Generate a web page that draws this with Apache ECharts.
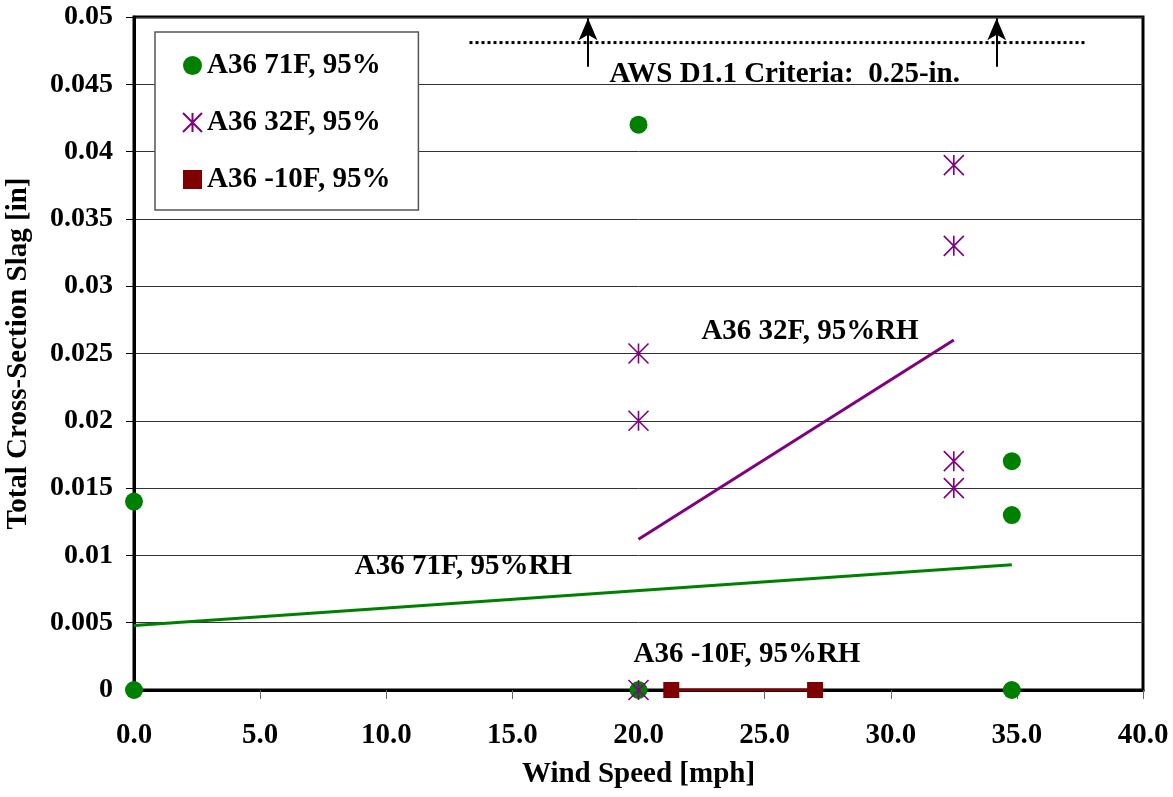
<!DOCTYPE html>
<html>
<head>
<meta charset="utf-8">
<script src="https://cdn.jsdelivr.net/npm/echarts@6/dist/echarts.min.js"></script>
<style>
html,body{margin:0;padding:0;background:#fff;}
#chart{width:1173px;height:797px;}
</style>
</head>
<body>
<div id="chart"></div>
<script>
// ---- data ----
const a36_71F = [[0,0.014],[0,0],[20,0.042],[20,0],[34.8,0.017],[34.8,0.013],[34.8,0]];
const a36_32F = [[20,0.025],[20,0.020],[20,0],[32.5,0.039],[32.5,0.033],[32.5,0.017],[32.5,0.015]];
const a36_m10F = [[21.3,0],[27,0]];
const trend71F = [[0,0.0048],[34.8,0.0093]];
const trend32F = [[20,0.0112],[32.5,0.026]];
const trendM10F = [[21.3,0],[27,0]];
const criteriaLine = [[13.3,0.0481],[37.8,0.0481]];
const arrowX = [18.0, 34.2];
const arrowY = [0.0463, 0.0499];
const notes = [
  {text:'AWS D1.1 Criteria:  0.25-in.', x:25.8, y:0.0457},
  {text:'A36 32F, 95%RH', x:26.8, y:0.0266},
  {text:'A36 71F, 95%RH', x:13.06, y:0.00914},
  {text:'A36 -10F, 95%RH', x:24.3, y:0.0026}
];
const names = ['A36 71F, 95%','A36 32F, 95%','A36 -10F, 95%'];

const FONT = '"Liberation Serif","Times New Roman",serif';
const GREEN = '#008000', PURPLE = '#800080', MAROON = '#800000';
const STAR = 'path://M0,0L20,20M20,0L0,20M10,0L10,20';

const chart = echarts.init(document.getElementById('chart'));
chart.setOption({
  animation:false,
  backgroundColor:'#fff',
  textStyle:{fontFamily:FONT},
  grid:{left:134,right:30,top:17,bottom:107,containLabel:false,outerBoundsMode:'none',
        show:true,borderColor:'#000',borderWidth:3,backgroundColor:'transparent'},
  legend:{
    data:names, orient:'vertical', left:155, top:32,
    padding:[19,28,16,27], itemGap:28, itemWidth:19, itemHeight:19,
    backgroundColor:'#fff', borderColor:'#555', borderWidth:1.5,
    textStyle:{fontFamily:FONT,fontWeight:'bold',fontSize:29,color:'#000'}
  },
  xAxis:{
    type:'value', min:0, max:40, interval:5,
    name:'Wind Speed [mph]', nameLocation:'middle', nameGap:70,
    nameTextStyle:{fontFamily:FONT,fontWeight:'bold',fontSize:29,color:'#000'},
    axisLine:{show:true,lineStyle:{color:'#000',width:3}},
    axisTick:{show:true,inside:false,length:9,lineStyle:{color:'#666',width:1}},
    axisLabel:{margin:31,fontFamily:FONT,fontWeight:'bold',fontSize:29,color:'#000',formatter:v=>v.toFixed(1)},
    splitLine:{show:false}
  },
  yAxis:{
    type:'value', min:0, max:0.05, interval:0.005,
    name:'Total Cross-Section Slag [in]', nameLocation:'middle', nameGap:101,
    nameTextStyle:{fontFamily:FONT,fontWeight:'bold',fontSize:29,color:'#000'},
    axisLine:{show:true,lineStyle:{color:'#000',width:3}},
    axisTick:{show:true,length:8,lineStyle:{color:'#000',width:1}},
    axisLabel:{margin:21,fontFamily:FONT,fontWeight:'bold',fontSize:28,color:'#000'},
    splitLine:{show:true,lineStyle:{color:'#333',width:1}}
  },
  series:[
    {name:'trend71', type:'line', data:trend71F, showSymbol:false, lineStyle:{color:GREEN,width:3}, z:2},
    {name:'trend32', type:'line', data:trend32F, showSymbol:false, lineStyle:{color:PURPLE,width:3}, z:2},
    {name:'trendM10', type:'line', data:trendM10F, showSymbol:false, lineStyle:{color:MAROON,width:3}, z:2},
    {name:'criteria', type:'line', data:criteriaLine, showSymbol:false, lineStyle:{color:'#000',width:3,type:[3,3]}, z:2,
      markLine:{silent:true, symbol:['none','arrow'], symbolSize:[14,22], label:{show:false},
        lineStyle:{color:'#000',width:2,type:'solid'},
        data:arrowX.map(x=>[{coord:[x,arrowY[0]]},{coord:[x,arrowY[1]]}])}
    },
    {name:names[0], type:'scatter', data:a36_71F, symbol:'circle', symbolSize:18, itemStyle:{color:GREEN,opacity:1}, z:3},
    {name:names[1], type:'scatter', data:a36_32F, symbol:STAR, symbolSize:20,
      itemStyle:{color:'transparent',borderColor:PURPLE,borderWidth:1.6,opacity:1}, z:4},
    {name:names[2], type:'scatter', data:a36_m10F, symbol:'rect', symbolSize:16, itemStyle:{color:MAROON,opacity:1}, z:3},
    {name:'notes', type:'scatter', data:notes.map(n=>({value:[n.x,n.y],label:{formatter:n.text}})),
      symbolSize:0, silent:true, z:5, itemStyle:{opacity:1},
      label:{show:true, position:'inside', fontFamily:FONT, fontWeight:'bold', fontSize:29, color:'#000'}}
  ]
});
</script>
</body>
</html>
